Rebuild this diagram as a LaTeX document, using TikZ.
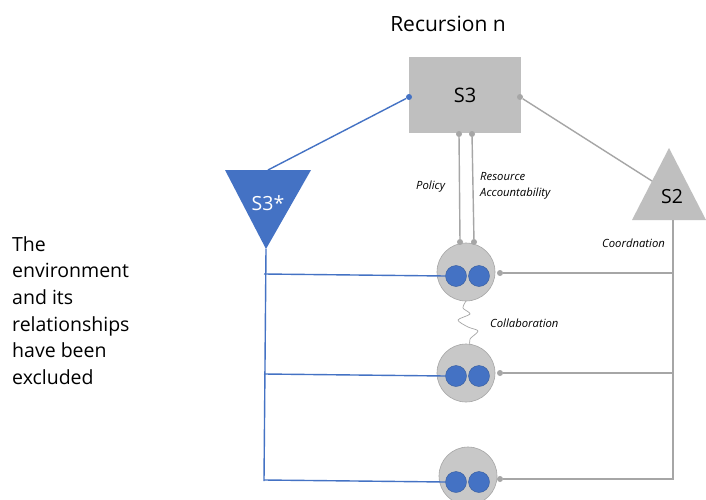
\documentclass[tikz,border=0pt]{standalone}
\usepackage{fontspec}
\setmainfont{Open Sans}
\definecolor{vsmblue}{HTML}{4472C4}
\definecolor{vsmgray}{HTML}{BFBFBF}
\definecolor{vsmline}{HTML}{A6A6A6}
\definecolor{vsmcirc}{HTML}{C8C8C8}
\begin{document}
\begin{tikzpicture}[x=1pt,y=-1pt,
  gline/.style={draw=vsmline,line width=1.4pt},
  bline/.style={draw=vsmblue,line width=1.4pt},
  gdot/.style={circle,fill=vsmline,inner sep=0pt,minimum size=6pt},
  bdot/.style={circle,fill=vsmblue,inner sep=0pt,minimum size=6pt},
  unit/.style={circle,fill=vsmcirc,draw=vsmline,line width=0.6pt,minimum size=58pt,inner sep=0pt},
  op/.style={circle,fill=vsmblue,draw=vsmblue!80!black,line width=0.4pt,minimum size=21pt,inner sep=0pt},
  lab/.style={font=\fontsize{11.3}{15.5}\selectfont\itshape,inner sep=0pt}]
\useasboundingbox (0,0) rectangle (706,500);
\fill[white] (0,0) rectangle (706,500);
% title
\node[font=\fontsize{21}{24}\selectfont] (title) at (448,24) {Recursion n};
% S3
\node[fill=vsmgray,minimum width=112pt,minimum height=75pt,inner sep=0pt,font=\fontsize{20}{22}\selectfont] (s3) at (465,95) {S3};
% S3*
\coordinate (ta) at (225,170);
\coordinate (tb) at (311,170);
\coordinate (tc) at (266,249);
\coordinate (ttop) at (268,170);
\fill[vsmblue] (ta) -- (tb) -- (tc) -- cycle;
\node[text=white,font=\fontsize{19.5}{22}\selectfont] (s3star) at (268,203) {S3*};
% S2
\coordinate (sa) at (632,220);
\coordinate (sb) at (669,148);
\coordinate (sc) at (706,220);
\coordinate (sleft) at (652,181);
\fill[vsmgray] (sa) -- (sb) -- (sc) -- cycle;
\node[font=\fontsize{19.5}{22}\selectfont] (s2) at (672,197) {S2};
\coordinate (s2bot) at (673,220);
% units
\node[unit] (u1) at (466,272) {};
\node[unit] (u2) at (466,373) {};
\node[unit] (u3) at (468,476) {};
\foreach \u/\y in {1/276,2/376,3/482}{
  \node[op] (l\u) at (456,\y) {};
  \node[op] (r\u) at (479,\y) {};
  \node[gdot] (gd\u) at (500,\y-3) {};
  \coordinate (c\u) at (673,\y-3);
  \coordinate (bl\u) at (264,\y-2);
}
% S2 vertical and coordination lines
\coordinate (s2end) at (673,480);
\draw[gline] (s2bot) -- (s2end);
\foreach \u in {1,2,3}{ \draw[gline] (gd\u) -- (c\u); }
% S3 -> S2
\node[gdot] (s3r) at (520,97) {};
\draw[gline] (s3r) -- (sleft);
% S3 -> S3*
\node[bdot] (s3l) at (409,97) {};
\draw[bline] (s3l) -- (ttop);
% S3* vertical and lines
\coordinate (bend) at (264,481);
\draw[bline] (tc) -- (bend);
\foreach \u in {1,2,3}{ \draw[bline] (bl\u) -- (l\u.west); }
% policy / resource lines
\node[gdot] (p1) at (459,134) {};
\node[gdot] (p2) at (472,134) {};
\node[gdot] (q1) at (460,242) {};
\node[gdot] (q2) at (474,242) {};
\draw[gline] (p1) -- (q1);
\draw[gline] (p2) -- (q2);
\node[lab,anchor=west] (policy) at (416,187) {Policy};
\node[lab,anchor=west,align=left] (resacc) at (480,186) {Resource\\Accountability};
\node[lab,anchor=west] (coord) at (602,243) {Coordnation};
% collaboration squiggle
\draw[vsmline,line width=0.7pt] plot[smooth] coordinates {(466,301) (463,308) (470,314) (458,320) (468,327) (478,331) (470,339) (470,345)};
\node[lab,anchor=west] (collab) at (490,323) {Collaboration};
% left text
\node[anchor=north west,align=left,inner sep=0pt,font=\fontsize{19.5}{26.7}\selectfont] (env) at (12,236) {The\\environment\\and its\\relationships\\have been\\excluded};
\end{tikzpicture}
\end{document}
